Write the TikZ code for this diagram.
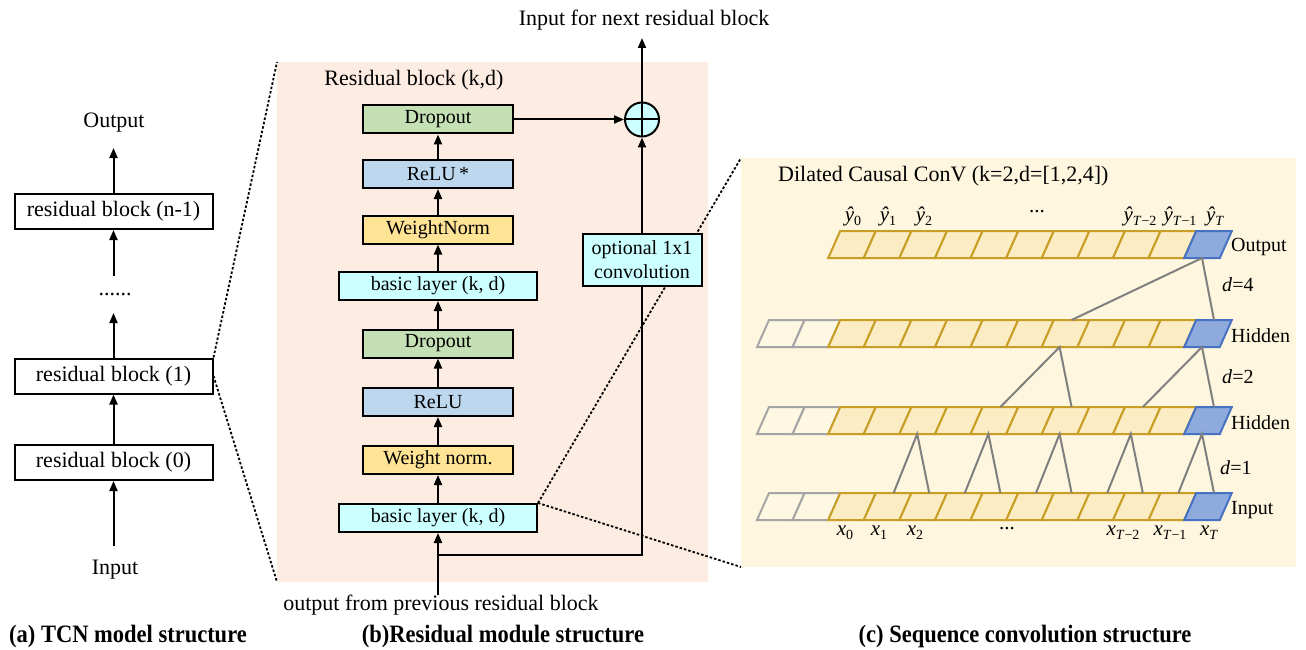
\documentclass[tikz,border=0pt]{standalone}
\usepackage{fontspec}
\setmainfont{Liberation Serif}
\usetikzlibrary{arrows.meta}
\pgfdeclarelayer{bg}
\pgfdeclarelayer{zoom}
\pgfsetlayers{bg,zoom,main}

\definecolor{peach}{RGB}{252,236,226}
\definecolor{cream}{RGB}{254,246,222}
\definecolor{boxgreen}{RGB}{197,224,180}
\definecolor{boxblue}{RGB}{189,215,238}
\definecolor{boxyellow}{RGB}{255,228,150}
\definecolor{boxcyan}{RGB}{204,255,255}
\definecolor{gold}{RGB}{200,158,38}
\definecolor{yfill}{RGB}{252,236,196}
\definecolor{grayline}{RGB}{165,165,165}
\definecolor{grayfill}{RGB}{254,247,226}
\definecolor{bline}{RGB}{70,114,196}
\definecolor{bfill}{RGB}{143,170,220}
\definecolor{connc}{RGB}{128,128,128}

% small lowered index for the sequence labels
\newcommand\lsub[1]{\raisebox{-0.45ex}{\fontsize{14}{14}\selectfont #1}}

\begin{document}
\begin{tikzpicture}[x=1pt,y=-1pt,
  every node/.style={font=\fontsize{22}{26}\selectfont, inner sep=0pt},
  arr/.style={line width=2pt, -{Triangle[length=10pt,width=8pt]}},
  plain/.style={line width=2pt},
  zoomline/.style={line width=1.8pt, dash pattern=on 2.5pt off 2pt},
  abox/.style={draw, line width=2pt, fill=white, minimum width=198pt, minimum height=35pt},
  bbox/.style={draw, line width=2pt, minimum width=150pt, minimum height=28pt,
               font=\fontsize{20}{24}\selectfont},
  wbox/.style={bbox, minimum width=198pt},
  conn/.style={draw=connc, line width=2pt},
  clabel/.style={font=\fontsize{20}{24}\selectfont, anchor=west},
  seq/.style={font=\fontsize{21}{24}\selectfont},
  caption/.style={font=\bfseries\fontsize{25}{28}\selectfont}]

\useasboundingbox (0,0) rectangle (1306,650);

% ---------------- panel backgrounds ----------------
\coordinate (bb-nw) at (277,62);
\coordinate (bb-sw) at (277,582);
\coordinate (cb-nw) at (741,158);
\coordinate (cb-sw) at (741,567);
\begin{pgfonlayer}{bg}
  \fill[peach] (bb-nw) rectangle (708,582);
  \fill[cream] (cb-nw) rectangle (1296,567);
\end{pgfonlayer}

% ---------------- (a) TCN model structure ----------------
\node (a-out) at (114,123) {Output};
\node[abox] (a-rbn) at (113.5,211.5) {residual block (n-1)};
\node (a-dots) at (115,295) {......};
\node[abox] (a-rb1) at (113.5,376) {residual block (1)};
\node[abox] (a-rb0) at (113.5,462.5) {residual block (0)};
\node (a-in) at (115,570) {Input};
\coordinate (a-outtip) at (113.5,148);
\coordinate (a-dotsup) at (113.5,276);
\coordinate (a-dotsdn) at (113.5,313);
\coordinate (a-instart) at (113.5,546);

\draw[arr] (a-rbn.north) -- (a-outtip);
\draw[arr] (a-dotsup) -- (a-rbn.south);
\draw[arr] (a-rb1.north) -- (a-dotsdn);
\draw[arr] (a-rb0.north) -- (a-rb1.south);
\draw[arr] (a-instart) -- (a-rb0.south);

% ---------------- (b) residual module ----------------
\node (b-title) at (414,80) {Residual block (k,d)};
\node[bbox, fill=boxgreen]  (b-drop2)  at (438,119.5) {Dropout};
\node[bbox, fill=boxblue]   (b-relu2)  at (438,174)   {ReLU\,*};
\node[bbox, fill=boxyellow] (b-wn2)    at (438,229.5) {WeightNorm};
\node[wbox, fill=boxcyan]   (b-basic2) at (438,286)   {basic layer (k, d)};
\node[bbox, fill=boxgreen]  (b-drop1)  at (438,343.5) {Dropout};
\node[bbox, fill=boxblue]   (b-relu1)  at (438,402)   {ReLU};
\node[bbox, fill=boxyellow] (b-wn1)    at (438,460)   {Weight norm.};
\node[wbox, fill=boxcyan]   (b-basic1) at (438,518)   {basic layer (k, d)};

\node[draw, line width=2pt, fill=boxcyan, minimum width=119pt, minimum height=52pt,
      align=center, font=\fontsize{20}{24}\selectfont] (b-conv) at (642,260)
      {optional 1x1\\convolution};
\node[draw, line width=2pt, fill=boxcyan, circle, minimum size=34pt] (b-plus) at (642,119.5) {};
\draw[line width=2pt] (b-plus.north) -- (b-plus.south) (b-plus.west) -- (b-plus.east);

\node (b-next) at (644,20) {Input for next residual block};
\node (b-prev) at (441,605) {output from previous residual block};
\coordinate (b-top) at (642,38);
\coordinate (b-in) at (438,595);
\coordinate (b-j1) at (438,555);

\draw[arr] (b-in) -- (b-basic1.south);
\draw[arr] (b-basic1.north) -- (b-wn1.south);
\draw[arr] (b-wn1.north) -- (b-relu1.south);
\draw[arr] (b-relu1.north) -- (b-drop1.south);
\draw[arr] (b-drop1.north) -- (b-basic2.south);
\draw[arr] (b-basic2.north) -- (b-wn2.south);
\draw[arr] (b-wn2.north) -- (b-relu2.south);
\draw[arr] (b-relu2.north) -- (b-drop2.south);
\draw[arr] (b-drop2.east) -- (b-plus.west);
\draw[plain] (b-j1) -| (b-conv.south);
\draw[arr] (b-conv.north) -- (b-plus.south);
\draw[arr] (b-plus.north) -- (b-top);

% ---------------- (c) dilated causal convolution ----------------
\node[anchor=west] (c-title) at (778,176) {Dilated Causal ConV (k=2,d=[1,2,4])};

\foreach \r/\yb/\first in {0/520/0, 1/434/0, 2/347/0, 3/258/2}{
  \foreach \i in {\first,...,12}{
    \pgfmathsetmacro\xl{757+35.6*\i}
    \pgfmathsetmacro\xr{\xl+35.6}
    \pgfmathsetmacro\yt{\yb-27}
    \ifnum\i<2 \def\sc{grayline}\def\fc{grayfill}%
    \else\ifnum\i<12 \def\sc{gold}\def\fc{yfill}%
    \else \def\sc{bline}\def\fc{bfill}\fi\fi
    \filldraw[draw=\sc, fill=\fc, line width=2pt]
      (\xl,\yb) -- (\xr,\yb) -- (\xr+12,\yt) -- (\xl+12,\yt) -- cycle;
    \coordinate (c-\r-\i-b) at (\xl+17.8,\yb);
    \coordinate (c-\r-\i-t) at (\xl+29.8,\yt);
  }
}

% connections, dilation 4
\draw[conn] (c-2-8-t) -- (c-3-12-b) -- (c-2-12-t);
% dilation 2
\draw[conn] (c-1-10-t) -- (c-2-12-b) -- (c-1-12-t);
\draw[conn] (c-1-6-t) -- (c-2-8-b) -- (c-1-8-t);
% dilation 1
\foreach \j in {4,6,8,10,12}{
  \pgfmathtruncatemacro\k{\j-1}
  \draw[conn] (c-0-\k-t) -- (c-1-\j-b) -- (c-0-\j-t);
}

\node[clabel] (c-lout) at (1231,247) {Output};
\node[clabel] (c-lh2) at (1231,336) {Hidden};
\node[clabel] (c-lh1) at (1231,423) {Hidden};
\node[clabel] (c-lin) at (1231,510) {Input};
\node[clabel] (c-d4) at (1222,285) {\textit{d}=4};
\node[clabel] (c-d2) at (1222,377) {\textit{d}=2};
\node[clabel] (c-d1) at (1220,468) {\textit{d}=1};

\node[seq] (c-y0) at (853,216) {\textit{ŷ}\lsub{0}};
\node[seq] (c-y1) at (888,216) {\textit{ŷ}\lsub{1}};
\node[seq] (c-y2) at (924,216) {\textit{ŷ}\lsub{2}};
\node[seq] (c-ydots) at (1037,212) {...};
\node[seq] (c-yT2) at (1140,216) {\textit{ŷ}\lsub{\textit{T}−2}};
\node[seq] (c-yT1) at (1180,216) {\textit{ŷ}\lsub{\textit{T}−1}};
\node[seq] (c-yT) at (1215,216) {\textit{ŷ}\lsub{\textit{T}}};

\node[seq] (c-x0) at (845,533) {\textit{x}\lsub{0}};
\node[seq] (c-x1) at (879,533) {\textit{x}\lsub{1}};
\node[seq] (c-x2) at (915,533) {\textit{x}\lsub{2}};
\node[seq] (c-xdots) at (1007,529) {...};
\node[seq] (c-xT2) at (1123,533) {\textit{x}\lsub{\textit{T}−2}};
\node[seq] (c-xT1) at (1170,533) {\textit{x}\lsub{\textit{T}−1}};
\node[seq] (c-xT) at (1209,533) {\textit{x}\lsub{\textit{T}}};

% ---------------- zoom guides ----------------
\begin{pgfonlayer}{zoom}
  \draw[zoomline] (a-rb1.north east) -- (bb-nw);
  \draw[zoomline] (a-rb1.east) -- (bb-sw);
  \draw[zoomline] (b-basic1.north east) -- (cb-nw);
  \draw[zoomline] (b-basic1.north east) -- (cb-sw);
\end{pgfonlayer}

% ---------------- captions ----------------
\node[caption] (cap-a) at (128,636) {\scalebox{0.9}[1]{(a) TCN model structure}};
\node[caption] (cap-b) at (503,636) {\scalebox{0.9}[1]{(b)Residual module structure}};
\node[caption] (cap-c) at (1025,636) {\scalebox{0.9}[1]{(c) Sequence convolution structure}};

\end{tikzpicture}
\end{document}
